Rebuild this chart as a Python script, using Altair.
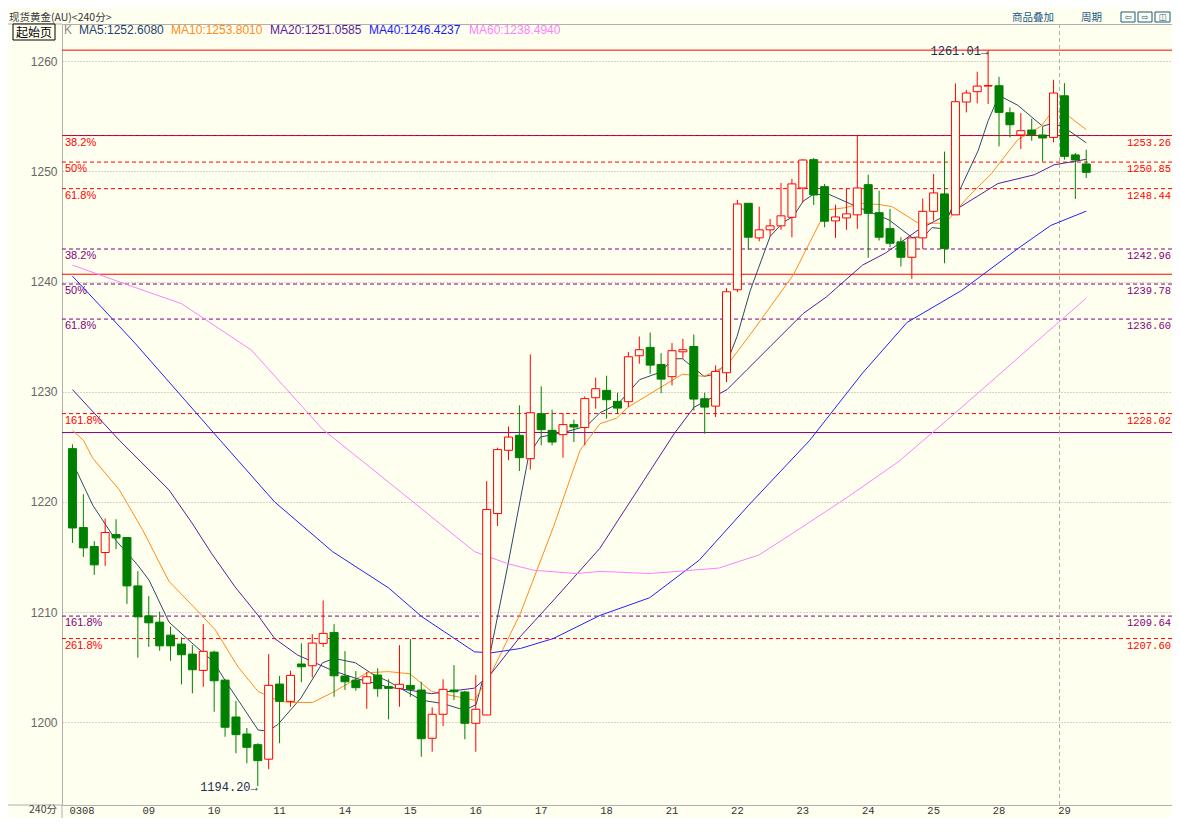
import altair as alt
import pandas as pd

BG = "#fffff0"
UP = "#ff0000"
DOWN = "#008000"
RED = "#ff0000"
PURPLE = "#800080"
NAVY = "#203050"

# ---------------- candles (4-hour bars) ----------------
opens = [1224.84, 1217.68, 1215.96, 1215.41, 1217.05, 1216.77, 1212.38, 1209.66, 1209.09, 1207.91,
         1207.10, 1206.19, 1204.71, 1206.37, 1203.83, 1200.48, 1198.94, 1197.97, 1196.65, 1203.47,
         1201.90, 1205.29, 1205.13, 1207.16, 1208.16, 1204.20, 1203.83, 1203.54, 1204.29, 1203.23,
         1203.08, 1203.35, 1202.93, 1198.55, 1200.73, 1202.93, 1202.75, 1199.91, 1200.66, 1218.95,
         1224.69, 1226.05, 1223.93, 1228.01, 1226.50, 1226.11, 1227.02, 1226.75, 1229.46, 1230.13,
         1229.13, 1229.10, 1233.27, 1234.03, 1232.48, 1231.37, 1233.63, 1234.11, 1229.37, 1228.70,
         1231.73, 1239.26, 1247.11, 1243.97, 1244.70, 1245.06, 1245.84, 1248.50, 1251.07, 1248.62,
         1245.51, 1245.78, 1246.06, 1248.80, 1246.26, 1244.81, 1243.61, 1242.21, 1243.97, 1246.38,
         1247.96, 1246.06, 1256.30, 1257.24, 1257.75, 1257.78, 1255.33, 1253.31, 1253.76, 1253.31,
         1253.09, 1256.87, 1251.50, 1250.68]
highs = [1225.23, 1220.70, 1216.44, 1218.49, 1218.43, 1216.80, 1213.72, 1211.45, 1210.03, 1208.67,
         1207.70, 1207.00, 1208.91, 1206.50, 1203.90, 1201.93, 1199.48, 1198.10, 1206.19, 1204.20,
         1204.68, 1207.16, 1208.00, 1211.06, 1208.91, 1206.46, 1204.65, 1204.59, 1204.90, 1203.90,
         1207.00, 1207.55, 1203.68, 1201.36, 1203.90, 1205.19, 1202.86, 1204.29, 1221.88, 1224.93,
         1226.86, 1228.77, 1233.39, 1230.49, 1228.38, 1228.07, 1227.47, 1229.58, 1231.28, 1231.46,
         1229.92, 1233.60, 1235.02, 1235.38, 1233.51, 1234.42, 1234.81, 1235.20, 1229.92, 1232.39,
         1239.40, 1247.42, 1247.11, 1246.81, 1245.69, 1248.96, 1249.32, 1251.10, 1251.22, 1248.87,
         1246.99, 1248.41, 1253.27, 1249.71, 1248.26, 1246.60, 1244.03, 1243.97, 1247.54, 1249.77,
         1251.80, 1257.99, 1257.39, 1259.05, 1261.01, 1258.59, 1255.81, 1255.30, 1254.79, 1254.06,
         1258.32, 1258.02, 1251.68, 1251.98]
lows = [1216.28, 1215.01, 1213.38, 1214.20, 1215.71, 1210.75, 1205.86, 1206.85, 1206.49, 1205.58,
        1203.44, 1202.63, 1203.23, 1200.96, 1198.69, 1197.19, 1196.28, 1194.20, 1195.74, 1198.10,
        1201.41, 1203.63, 1204.08, 1206.85, 1202.32, 1202.93, 1202.86, 1201.23, 1202.32, 1200.27,
        1201.41, 1202.32, 1196.88, 1197.33, 1199.66, 1202.02, 1198.46, 1197.33, 1200.66, 1217.82,
        1223.78, 1222.81, 1222.94, 1225.14, 1225.14, 1224.02, 1225.44, 1225.14, 1228.47, 1227.56,
        1228.01, 1228.61, 1232.55, 1231.64, 1229.88, 1230.58, 1233.00, 1228.31, 1226.20, 1227.71,
        1230.88, 1239.04, 1242.88, 1243.66, 1244.09, 1244.70, 1244.03, 1247.20, 1246.96, 1244.93,
        1243.97, 1244.70, 1244.79, 1242.16, 1243.73, 1243.12, 1241.37, 1240.25, 1242.97, 1245.54,
        1241.67, 1246.06, 1255.36, 1256.18, 1256.12, 1252.28, 1253.09, 1252.04, 1252.79, 1250.92,
        1252.64, 1251.07, 1247.50, 1249.41]
closes = [1217.64, 1215.83, 1214.29, 1217.23, 1216.74, 1212.38, 1209.57, 1209.03, 1206.94, 1206.94,
          1206.13, 1204.77, 1206.44, 1203.77, 1199.55, 1198.88, 1197.73, 1196.52, 1203.35, 1201.90,
          1204.26, 1205.04, 1207.19, 1208.07, 1204.22, 1203.68, 1203.14, 1204.13, 1203.05, 1203.08,
          1203.45, 1202.99, 1198.51, 1200.73, 1202.99, 1202.77, 1199.91, 1201.18, 1219.31, 1224.75,
          1225.89, 1224.02, 1228.10, 1226.56, 1225.44, 1227.02, 1226.80, 1229.38, 1230.28, 1229.28,
          1228.52, 1233.18, 1233.82, 1232.42, 1231.15, 1233.73, 1233.82, 1229.34, 1228.61, 1231.85,
          1239.08, 1247.05, 1244.03, 1244.70, 1245.06, 1245.97, 1248.87, 1251.04, 1247.87, 1245.48,
          1245.87, 1246.15, 1248.50, 1246.20, 1244.03, 1243.48, 1242.21, 1243.97, 1246.38, 1248.05,
          1243.00, 1256.33, 1257.12, 1257.75, 1257.80, 1255.36, 1254.24, 1253.70, 1253.34, 1253.04,
          1257.12, 1251.37, 1251.04, 1249.92]

# ---------------- x axis (trading days) ----------------
day_labels = ["0308", "09", "10", "11", "14", "15", "16", "17", "18", "21",
              "22", "23", "24", "25", "28", "29"]
day_start = [0, 7, 13, 19, 25, 31, 37, 43, 49, 55, 61, 67, 73, 79, 85, 91]
last_day_sep = 90.55

# ---------------- moving averages ----------------
ma5_idx = [0, 1.87, 4.0, 5.96, 7.03, 8.85, 10.96, 12.94, 14.0, 15.82, 17.03, 17.94, 18.85, 20.96, 22.94,
           24.0, 25.96, 27.48, 29.0, 32.03, 34.0, 35.96, 37.03, 38.39, 39.91, 41.87, 42.94, 45.05, 47.18,
           48.39, 50.05, 52.03, 54.0, 55.05, 55.96, 57.94, 59.0, 60.05, 60.96, 62.18, 64.0, 65.21, 66.12,
           67.03, 67.94, 69.45, 71.27, 72.48, 74.91, 77.03, 78.09, 78.85, 79.91, 80.96, 83.09, 84.0, 85.0,
           86.73, 89.0, 90.0, 91.27, 93.0]
ma5_val = [1223.6, 1219.7, 1216.5, 1214.3, 1212.9, 1209.1, 1207.2, 1205.5, 1203.8, 1201.1, 1199.3, 1199.2,
           1199.8, 1202.2, 1205.4, 1205.8, 1205.4, 1204.4, 1203.7, 1202.0, 1201.7, 1201.1, 1201.6, 1206.6,
           1214.1, 1224.3, 1225.9, 1226.3, 1226.9, 1228.1, 1228.9, 1231.1, 1231.8, 1233.0, 1233.0, 1231.4,
           1231.6, 1232.7, 1235.0, 1239.2, 1244.1, 1245.4, 1245.9, 1247.3, 1247.9, 1247.9, 1247.1, 1246.6,
           1245.6, 1244.0, 1244.1, 1244.9, 1244.8, 1247.4, 1251.9, 1254.6, 1256.9, 1256.0, 1254.1, 1254.4,
           1253.8, 1252.6]
ma10_idx = [0, 1.0, 1.87, 4.3, 6.42, 8.85, 11.87, 13.09, 15.21, 17.03, 19.0, 20.05, 22.03, 23.85, 27.03,
            29.0, 30.96, 32.94, 36.87, 38.39, 41.1, 44.15, 46.57, 48.39, 49.9, 50.96, 55.96, 57.94, 60.05,
            62.18, 66.12, 69.15, 70.82, 72.48, 74.0, 75.2, 77.6, 80.05, 82.18, 84.3, 86.73, 88.85, 90.0,
            91.27, 93.0]
ma10_val = [1226.5, 1225.6, 1223.96, 1221.1, 1217.5, 1212.8, 1209.7, 1208.4, 1205.0, 1202.8, 1201.9,
            1201.8, 1201.8, 1202.7, 1204.5, 1204.6, 1204.4, 1202.8, 1202.0, 1204.4, 1209.9, 1217.8,
            1224.7, 1227.1, 1227.6, 1228.6, 1231.6, 1231.4, 1232.4, 1235.2, 1240.6, 1246.5, 1246.7,
            1247.1, 1247.0, 1246.8, 1245.3, 1245.3, 1247.7, 1249.8, 1252.9, 1254.1, 1255.6, 1255.1, 1253.8]
ma20_idx = [0, 4.3, 8.85, 10.96, 12.78, 14.91, 17.03, 18.55, 20.66, 23.85, 25.96, 29.0, 32.94, 36.87,
            38.39, 41.1, 44.15, 48.39, 55.2, 57.03, 60.05, 61.87, 64.0, 67.03, 69.15, 72.48, 74.6, 77.6,
            80.66, 84.9, 88.24, 90.05, 93.0]
ma20_val = [1230.2, 1225.6, 1221.1, 1218.1, 1215.3, 1212.3, 1209.7, 1207.6, 1206.1, 1204.7, 1204.0,
            1203.2, 1202.6, 1203.1, 1204.4, 1207.8, 1211.1, 1215.8, 1226.2, 1228.6, 1230.2, 1232.0,
            1234.1, 1237.1, 1238.6, 1241.5, 1242.6, 1244.7, 1246.3, 1248.9, 1249.7, 1250.6, 1251.1]
ma40_idx = [0, 5.66, 13.55, 18.55, 23.85, 29.0, 32.03, 36.87, 38.39, 41.1, 44.1, 48.39, 52.94, 57.48,
            62.03, 67.64, 72.48, 76.57, 81.57, 86.73, 89.75, 93.0]
ma40_val = [1240.5, 1234.5, 1225.6, 1220.0, 1215.5, 1212.2, 1209.6, 1206.4, 1206.3, 1206.7, 1207.6,
            1209.7, 1211.3, 1214.7, 1219.7, 1225.6, 1231.7, 1236.3, 1239.2, 1243.0, 1245.1, 1246.4]
ma60_idx = [0, 5.66, 10.0, 16.4, 22.94, 29.0, 36.87, 39.91, 42.33, 46.27, 48.39, 52.94, 59.3, 63.0,
            66.6, 71.2, 75.7, 80.2, 84.7, 89.3, 93.0]
ma60_val = [1241.5, 1239.5, 1238.0, 1233.8, 1226.6, 1221.8, 1215.5, 1214.4, 1213.8, 1213.5, 1213.7,
            1213.5, 1214.0, 1215.2, 1217.5, 1220.5, 1223.6, 1227.4, 1231.3, 1235.3, 1238.5]

ma_names = ["MA5", "MA10", "MA20", "MA40", "MA60"]
ma_colors = ["#2a4a6a", "#ff8c1a", "#5b1f96", "#2222ff", "#ff80ff"]
ma_legend = ["MA5:1252.6080", "MA10:1253.8010", "MA20:1251.0585", "MA40:1246.4237", "MA60:1238.4940"]
ma_text_colors = ["#1f3f6f", "#ff8c1a", "#5b1a9a", "#1a1aff", "#ff80ff"]

# ---------------- Fibonacci levels ----------------
red_solid = [1261.01, 1240.67]
purple_solid = [1253.26, 1226.30]
red_levels = [1253.26, 1250.85, 1248.44, 1228.02, 1207.60]
red_pcts = ["38.2%", "50%", "61.8%", "161.8%", "261.8%"]
purple_levels = [1242.96, 1239.78, 1236.60, 1209.64]
purple_pcts = ["38.2%", "50%", "61.8%", "161.8%"]

ann_idx = [84, 17]
ann_price = [1261.01, 1194.20]
ann_text = ["1261.01→", "1194.20→"]

grid_values = [1200, 1210, 1220, 1230, 1240, 1250, 1260]

# ---------------- geometry ----------------
W, H = 1110, 781
xs = alt.Scale(domain=[-0.5, -0.5 + W / 11.0], nice=False, zero=False)
ys = alt.Scale(domain=[1192.493, 1263.384], nice=False, zero=False)
yaxis = alt.Axis(values=grid_values, grid=True, gridColor="#a8a8a8", gridDash=[1, 2], gridWidth=1,
                 ticks=False, domain=False, labelColor="#666666", labelFont="Liberation Sans",
                 labelFontSize=12, labelPadding=5, title=None, format="d")


def X(f):
    return alt.X(f, type="quantitative", scale=xs, axis=None)


def Y(f):
    return alt.Y(f, type="quantitative", scale=ys, axis=yaxis)


cdf = pd.DataFrame({"i": list(range(len(opens))), "open": opens, "high": highs,
                    "low": lows, "close": closes})
cdf["dir"] = ["up" if c >= o else "down" for o, c in zip(opens, closes)]
dir_stroke = alt.Stroke("dir:N", scale=alt.Scale(domain=["up", "down"], range=[UP, DOWN]), legend=None)
dir_fill = alt.Fill("dir:N", scale=alt.Scale(domain=["up", "down"], range=[BG, DOWN]), legend=None)

layers = []

# fib solid lines
layers.append(alt.Chart(pd.DataFrame({"p": purple_solid})).mark_rule(color=PURPLE, strokeWidth=1)
              .encode(y=Y("p")))
layers.append(alt.Chart(pd.DataFrame({"p": red_solid})).mark_rule(color=RED, strokeWidth=1)
              .encode(y=Y("p")))
# fib dashed
rdf = pd.DataFrame({"p": red_levels, "pct": red_pcts, "v": [f"{v:.2f}" for v in red_levels]})
pdf = pd.DataFrame({"p": purple_levels, "pct": purple_pcts, "v": [f"{v:.2f}" for v in purple_levels]})
for d, col in ((rdf, RED), (pdf, PURPLE)):
    layers.append(alt.Chart(d).mark_rule(color=col, strokeWidth=1, strokeDash=[4, 3]).encode(y=Y("p")))
    layers.append(alt.Chart(d).mark_text(align="left", baseline="middle", dy=7, font="Liberation Sans",
                                         fontSize=11, color=col)
                  .encode(y=Y("p"), x=alt.value(3), text="pct:N"))
    layers.append(alt.Chart(d).mark_text(align="right", baseline="middle", dy=7, font="Liberation Mono",
                                         fontSize=10.5, color=col)
                  .encode(y=Y("p"), x=alt.value(W - 1), text="v:N"))

# vertical day separator
layers.append(alt.Chart(pd.DataFrame({"x": [last_day_sep]})).mark_rule(color="#b0b0b0", strokeDash=[4, 3])
              .encode(x=X("x")))

# MA lines
for name, col, idx, val in zip(ma_names, ma_colors,
                                [ma5_idx, ma10_idx, ma20_idx, ma40_idx, ma60_idx],
                                [ma5_val, ma10_val, ma20_val, ma40_val, ma60_val]):
    d = pd.DataFrame({"idx": idx, "val": val})
    layers.append(alt.Chart(d).mark_line(color=col, strokeWidth=1)
                  .encode(x=X("idx"), y=Y("val"), order="idx:Q"))

# candles
layers.append(alt.Chart(cdf).mark_rule(strokeWidth=1)
              .encode(x=X("i"), y=Y("low"), y2="high", stroke=dir_stroke))
layers.append(alt.Chart(cdf).mark_bar(size=8, strokeWidth=1)
              .encode(x=X("i"), y=Y("open"), y2="close", fill=dir_fill, stroke=dir_stroke))

# high / low annotations
adf = pd.DataFrame({"i": ann_idx, "p": ann_price, "t": ann_text})
layers.append(alt.Chart(adf).mark_text(align="right", baseline="middle", dy=1, font="Liberation Mono",
                                       fontSize=12, color=NAVY)
              .encode(x=X("i"), y=Y("p"), text="t:N"))

# day labels
ddf = pd.DataFrame({"i": day_start, "t": day_labels})
layers.append(alt.Chart(ddf.iloc[:1]).mark_text(align="left", baseline="middle", dx=-3,
                                                font="Liberation Mono", fontSize=10.5, color="#333333")
              .encode(x=X("i"), y=alt.value(H + 6), text="t:N"))
layers.append(alt.Chart(ddf.iloc[1:]).mark_text(align="center", baseline="middle",
                                                font="Liberation Mono", fontSize=10.5, color="#333333")
              .encode(x=X("i"), y=alt.value(H + 6), text="t:N"))


def txt(t, x, y, color, size=12, font="Liberation Sans", align="left"):
    return (alt.Chart(pd.DataFrame({"t": [t]}))
            .mark_text(align=align, baseline="middle", font=font, fontSize=size, color=color)
            .encode(x=alt.value(x), y=alt.value(y), text="t:N"))


def seg(x1, x2, y1, y2, color, width=1):
    return (alt.Chart(pd.DataFrame({"a": [0]})).mark_rule(color=color, strokeWidth=width)
            .encode(x=alt.value(x1), x2=alt.value(x2), y=alt.value(y1), y2=alt.value(y2)))


# frame extensions
layers.append(seg(-54, 0, 0, 0, "#b0b0b0"))
layers.append(seg(-54, 0, H, H, "#b0b0b0"))
layers.append(seg(0, 0, H, H + 13, "#b0b0b0"))

# header texts
layers.append(txt("现货黄金(AU)<240分>", -53, -6.5, "#333333", 10.5, "Noto Sans CJK SC"))
layers.append(txt("商品叠加", 950, -6.5, "#1a5a8a", 10.5, "Noto Sans CJK SC"))
layers.append(txt("周期", 1019, -6.5, "#1a5a8a", 10.5, "Noto Sans CJK SC"))
for x0, x1, s in ((1059, 1073, "⇦"), (1076, 1090, "⇨"), (1093, 1108, "◫")):
    layers.append(alt.Chart(pd.DataFrame({"a": [0]}))
                  .mark_rect(fillOpacity=0, stroke="#1a5a8a", strokeWidth=1)
                  .encode(x=alt.value(x0), x2=alt.value(x1), y=alt.value(-12), y2=alt.value(-2)))
    layers.append(txt(s, (x0 + x1) / 2, -7, "#1a5a8a", 8.5, "DejaVu Sans", "center"))

# start page box
layers.append(alt.Chart(pd.DataFrame({"a": [0]}))
              .mark_rect(fill=BG, stroke="#000000", strokeWidth=1)
              .encode(x=alt.value(-49), x2=alt.value(-7), y=alt.value(0), y2=alt.value(16)))
layers.append(txt("起始页", -28, 8.5, "#000000", 12, "Noto Sans CJK SC", "center"))
layers.append(txt("240分", -5, H + 5, "#444444", 10.5, "Noto Sans CJK SC", "right"))

# MA legend
layers.append(txt("K", 2, 6, "#888888", 12))
for t, col, x in zip(ma_legend, ma_text_colors, [17, 109, 208, 307, 407]):
    layers.append(txt(t, x, 6, col, 12))

chart = (alt.layer(*layers)
         .properties(width=W, height=H, background=BG,
                     autosize=alt.AutoSizeParams(type="none"),
                     padding={"left": 54, "top": 16, "right": 0, "bottom": 13})
         .configure_view(stroke="#b0b0b0", strokeWidth=1))

chart.save("out.html", embed_options={"renderer": "svg", "actions": False})
